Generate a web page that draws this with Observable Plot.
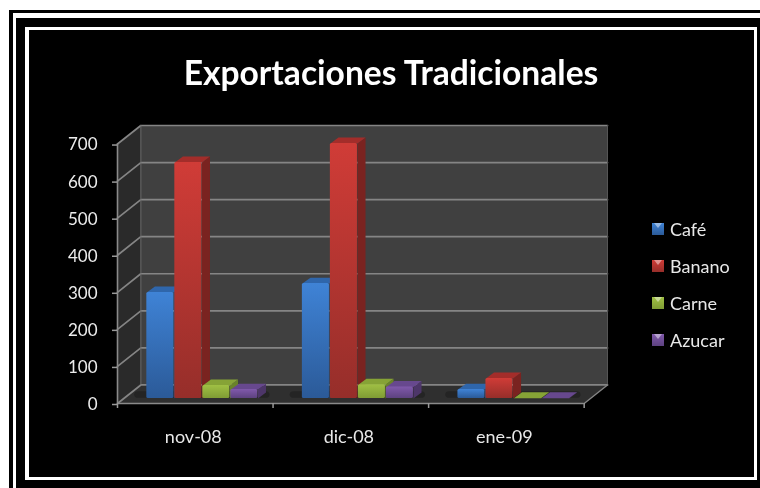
<!DOCTYPE html>
<html><head><meta charset="utf-8">
<script src="https://cdn.jsdelivr.net/npm/d3@7"></script>
<script src="https://cdn.jsdelivr.net/npm/@observablehq/plot@0.6"></script>
<style>
html,body{margin:0;padding:0;background:#fff;width:760px;height:488px;overflow:hidden}
#bg{position:absolute;left:9px;top:10px;width:751px;height:478px;background:#000}
.f{position:absolute;background:#fff}
#chart{position:absolute;left:0;top:0;filter:blur(0.4px)}
#chart svg{background:transparent;display:block}
#title{position:absolute;left:170px;top:50px;width:442px;text-align:center;color:#fff;font:700 33.6px/44px Lato,sans-serif;white-space:nowrap;filter:blur(0.4px)}
#legend{position:absolute;left:652px;top:0;font:18px/20px Lato,sans-serif;color:#e8e8e8;filter:blur(0.3px)}
.li{position:absolute;left:0;white-space:nowrap}
.sw{position:absolute;left:0;top:4px;width:12px;height:12px;overflow:hidden}
.sw i{position:absolute;left:2px;top:0;width:8px;height:5px;clip-path:polygon(0 0,100% 0,50% 100%);background:rgba(255,255,255,.45)}
.li span{position:absolute;left:18px;top:0}
</style></head><body>
<div id="bg"></div>
<div class="f" style="left:13px;top:13px;width:747px;height:4.5px"></div>
<div class="f" style="left:13px;top:13px;width:3px;height:475px"></div>
<div class="f" style="left:25px;top:27px;width:732px;height:3px"></div>
<div class="f" style="left:25px;top:477px;width:732px;height:3px"></div>
<div class="f" style="left:25px;top:27px;width:4px;height:453px"></div>
<div class="f" style="left:754px;top:27px;width:3px;height:453px"></div>
<div id="chart"></div>
<div id="title">Exportaciones Tradicionales</div>
<div id="legend"></div>
<script>
const months = ["nov-08", "dic-08", "ene-09"];
const seriesNames = ["Café", "Banano", "Carne", "Azucar"];
const cafe = [286, 310, 24];
const banano = [637, 688, 54];
const carne = [35, 37, 1];
const azucar = [24, 31, 1];
const yTicks = [0, 100, 200, 300, 400, 500, 600, 700];
const seriesValues = [cafe, banano, carne, azucar];
const tops = ["#3f83d6", "#d03c37", "#a0c044", "#8059ab"];
const bottoms = ["#2b5a98", "#962e2a", "#7f9c34", "#5d4280"];
const sides = ["#24507f", "#7a2320", "#6a8329", "#4d3669"];
const caps = ["#2f66ab", "#a32d2a", "#86a336", "#67488e"];

// oblique projection, in data units
const wallDx = 0.15, wallDy = 50;      // depth of the plot box
const barDepth = 0.27;                 // where the bars stand in that box
const sideDx = 0.052, sideDy = 16;     // depth of one bar
const barW = 0.18, groupPad = 0.148;
const bx = (m, s) => m + groupPad + s * barW + barDepth * wallDx;
const by = v => v + barDepth * wallDy;

const poly = (pts, id) => pts.map(([x, y]) => ({x, y, id}));
const xMax = months.length;
const wallLeft = poly([[0,0],[wallDx,wallDy],[wallDx,700+wallDy],[0,700]], 0);
const floor = poly([[0,0],[xMax,0],[xMax+wallDx,wallDy],[wallDx,wallDy]], 0);
const gridLines = yTicks.flatMap(v => poly([[0,v],[wallDx,v+wallDy],[xMax+wallDx,v+wallDy]], v));

const gradients = () => {
  const ns = "http://www.w3.org/2000/svg";
  const defs = document.createElementNS(ns, "defs");
  tops.forEach((c, i) => {
    const g = document.createElementNS(ns, "linearGradient");
    g.id = "g" + i; g.setAttribute("x1", 0); g.setAttribute("x2", 0); g.setAttribute("y1", 0); g.setAttribute("y2", 1);
    [[0, c], [1, bottoms[i]]].forEach(([o, col]) => {
      const s = document.createElementNS(ns, "stop");
      s.setAttribute("offset", o); s.setAttribute("stop-color", col); g.appendChild(s);
    });
    defs.appendChild(g);
  });
  return defs;
};

const barMarks = seriesValues.flatMap((vals, s) => {
  const sideP = vals.flatMap((v, m) => {
    const r = bx(m, s) + barW - 0.006;
    return poly([[r,by(0)],[r+sideDx,by(0)+sideDy],[r+sideDx,by(v)+sideDy],[r,by(v)]], m);
  });
  const capP = vals.flatMap((v, m) => {
    const l = bx(m, s), r = l + barW - 0.006;
    return poly([[l,by(v)],[l+sideDx,by(v)+sideDy],[r+sideDx,by(v)+sideDy],[r,by(v)]], m);
  });
  const fronts = vals.map((v, m) => ({x1: bx(m, s), x2: bx(m, s) + barW - 0.006, y1: by(0), y2: by(v), v}));
  return [
    Plot.line(sideP, {x: "x", y: "y", z: "id", fill: sides[s], stroke: null, curve: "linear"}),
    Plot.line(capP, {x: "x", y: "y", z: "id", fill: caps[s], stroke: null, curve: "linear"}),
    Plot.rect(fronts.filter(d => d.v > 2), {x1: "x1", x2: "x2", y1: "y1", y2: "y2", fill: `url(#g${s})`, rx: 1.5})
  ];
});

const shadows = months.map((_, m) => ({x1: m + 0.11, x2: m + 0.98}));

const plot = Plot.plot({
  width: 760, height: 488,
  marginLeft: 117, marginRight: 153, marginTop: 125, marginBottom: 85,
  style: {background: "transparent", fontFamily: "Lato, sans-serif", overflow: "visible"},
  x: {domain: [0, xMax + wallDx], axis: null},
  y: {domain: [0, 700 + wallDy], axis: null},
  marks: [
    gradients,
    Plot.rect([0], {x1: wallDx, x2: xMax + wallDx, y1: wallDy, y2: 700 + wallDy, fill: "#404040"}),
    Plot.line(wallLeft, {x: "x", y: "y", z: "id", fill: "#2a2a2a", stroke: null}),
    Plot.line(floor, {x: "x", y: "y", z: "id", fill: "#2f2f2f", stroke: null}),
    Plot.line(gridLines, {x: "x", y: "y", z: "id", stroke: "#858585", strokeWidth: 1.7}),
    Plot.ruleX([wallDx], {y1: wallDy, y2: 700 + wallDy, stroke: "#6a6a6a", strokeWidth: 1}),
    Plot.ruleX([xMax + wallDx], {y1: wallDy, y2: 700 + wallDy, stroke: "#555", strokeWidth: 1}),
    Plot.line(poly([[xMax,0],[xMax+wallDx,wallDy]], 0), {x: "x", y: "y", stroke: "#858585", strokeWidth: 1.4}),
    Plot.rect(shadows, {x1: "x1", x2: "x2", y1: 14, y2: 32, fill: "#242424", rx: 4}),
    ...barMarks,
    Plot.ruleY([0], {x1: 0, x2: xMax, stroke: "#8a8a8a", strokeWidth: 1.6}),
    Plot.ruleX([0], {y1: 0, y2: 700, stroke: "#8a8a8a", strokeWidth: 1.6}),
    Plot.axisX(d3.range(xMax + 1), {anchor: "bottom", tickFormat: () => "", tickSize: 5, stroke: "#999", strokeWidth: 1.5, label: null}),
    Plot.axisY(yTicks, {anchor: "left", tickSize: 5, tickPadding: 15, dy: 1, stroke: "#999", strokeWidth: 1.5, fill: "#ececec", fontSize: 17, label: null, tickFormat: d => String(d)}),
    Plot.text(months, {x: (d, i) => i + 0.5, y: 0, dy: 34, dx: -2, text: d => d, fill: "#e8e8e8", fontSize: 18})
  ]
});
document.getElementById("chart").appendChild(plot);

const legend = document.getElementById("legend");
seriesNames.forEach((name, i) => {
  const li = document.createElement("div");
  li.className = "li"; li.style.top = (219 + i * 37) + "px";
  li.innerHTML = `<div class="sw" style="background:linear-gradient(${tops[i]},${bottoms[i]})"><i></i></div><span>${name}</span>`;
  legend.appendChild(li);
});
</script>
</body></html>
